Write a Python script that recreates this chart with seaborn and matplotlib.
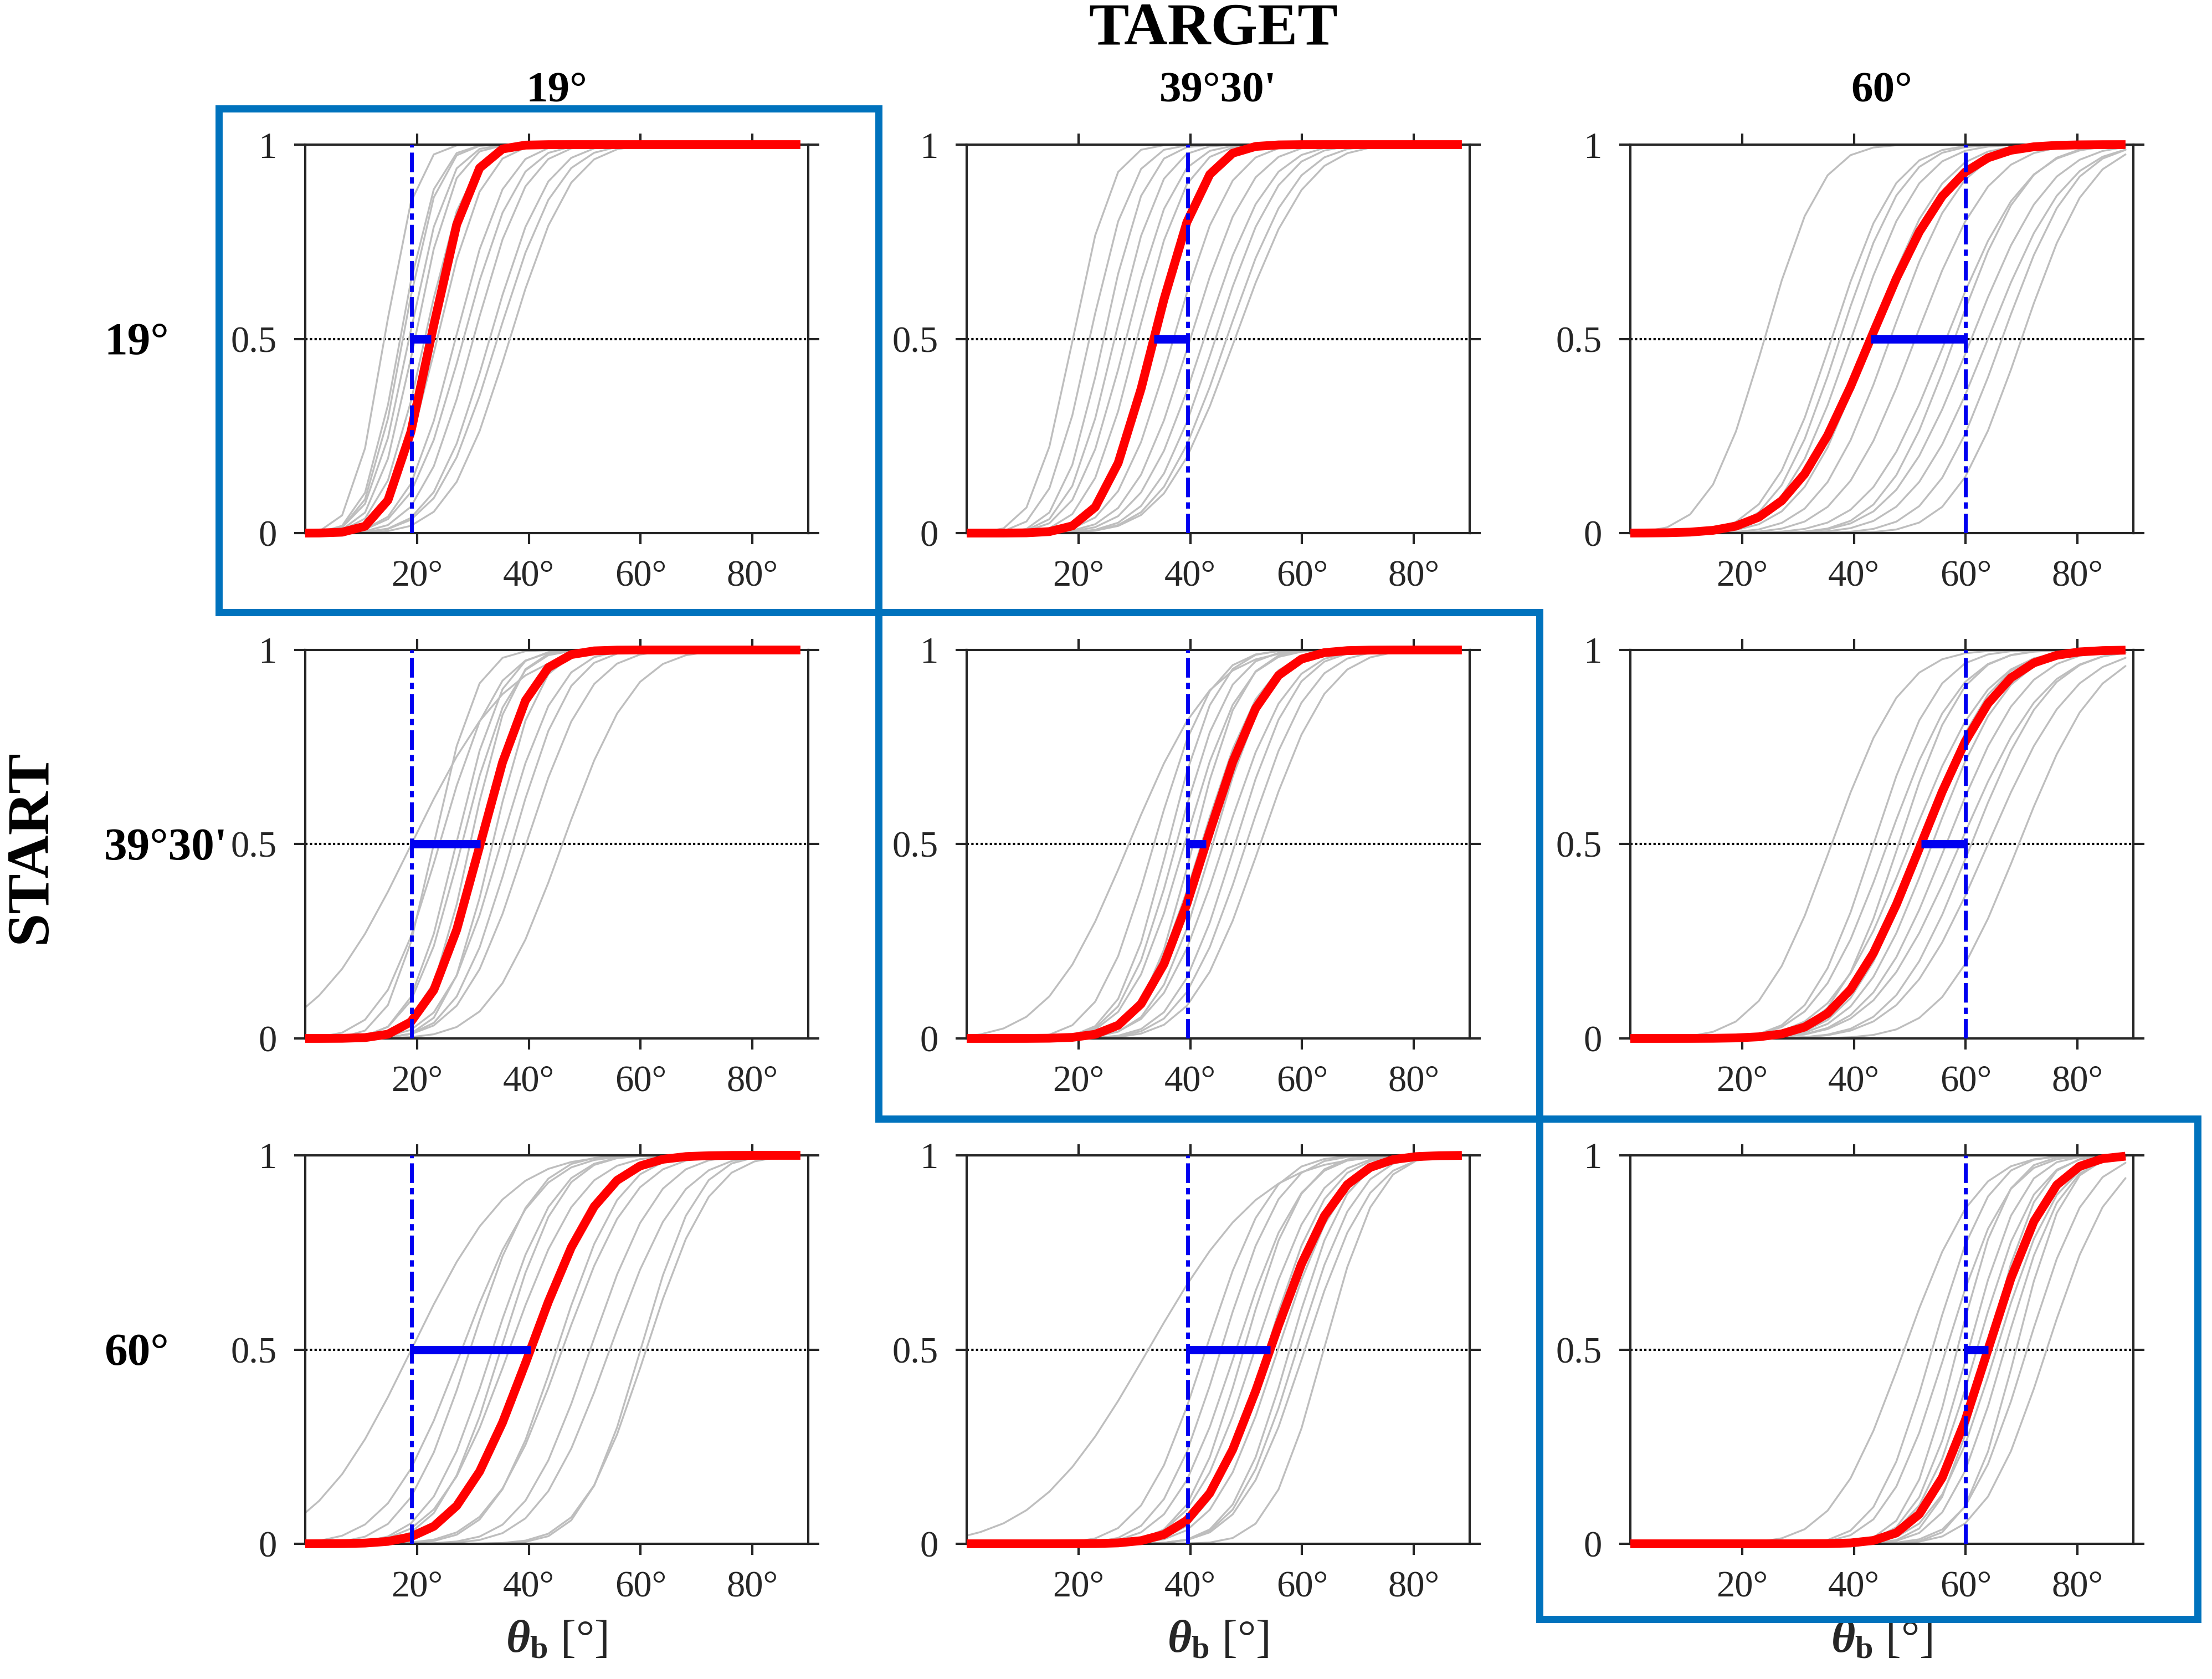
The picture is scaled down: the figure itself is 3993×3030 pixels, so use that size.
import math
import numpy as np
import pandas as pd
import matplotlib
matplotlib.use("Agg")
import matplotlib.pyplot as plt
from matplotlib.patches import Rectangle
import seaborn as sns

# ---------------- data ----------------
theta_grid = np.concatenate(([0.0], np.arange(2.5, 89.0, 4.1)))   # stimulus angles
targets = [19.0, 39.5, 60.0]                                       # target angles (columns)
col_titles = ["19°", "39°30'", "60°"]
row_titles = ["19°", "39°30'", "60°"]
xtick_vals = [20, 40, 60, 80]
xtick_labels = ["20°", "40°", "60°", "80°"]
ytick_vals = [0, 0.5, 1]
ytick_labels = ["0", "0.5", "1"]

# group (red) psychometric curves: PSE and spread per panel, rows = start
red_pse_start19 = [22.5, 33.5, 43.0]
red_sd_start19 = [5.6, 7.0, 11.5]
red_pse_start39 = [31.3, 42.8, 52.0]
red_sd_start39 = [7.2, 8.6, 11.0]
red_pse_start60 = [40.3, 54.3, 64.0]
red_sd_start60 = [10.2, 9.6, 8.6]

# individual (grey) curves per panel: PSE and spread
gray_pse_r1c1 = [14.2, 17.0, 17.5, 18.6, 19.6, 21.4, 23.6, 26.9, 28.3, 30.1, 33.0, 34.4, 36.6]
gray_sd_r1c1 = [4.5, 5.0, 5.0, 5.5, 5.5, 6.0, 6.5, 7.0, 7.5, 7.5, 8.0, 8.5, 8.5]
gray_pse_r1c2 = [19.0, 22.0, 24.5, 26.5, 28.5, 30.5, 37.0, 40.0, 42.5, 44.5, 46.5, 48.0]
gray_sd_r1c2 = [5.5, 6.0, 6.0, 6.5, 7.0, 7.0, 8.0, 8.5, 9.0, 9.0, 9.5, 10.0]
gray_pse_r1c3 = [24.0, 36.0, 37.5, 39.5, 43.0, 46.5, 51.0, 56.5, 58.0, 61.0, 64.0, 66.5, 70.0]
gray_sd_r1c3 = [8.0, 9.0, 9.0, 9.5, 10.0, 10.0, 10.5, 11.0, 10.0, 11.0, 11.0, 10.0, 9.5]
gray_pse_r2c1 = [19.0, 23.0, 24.0, 27.0, 28.0, 29.5, 31.0, 33.5, 35.0, 37.0, 39.5, 46.0]
gray_sd_r2c1 = [13.5, 6.0, 8.0, 6.5, 7.0, 6.0, 7.5, 6.5, 8.0, 8.0, 9.0, 10.0]
gray_pse_r2c2 = [29.0, 33.5, 36.0, 37.5, 39.0, 40.5, 42.0, 44.0, 46.0, 48.0, 50.0, 52.5]
gray_sd_r2c2 = [11.5, 8.0, 7.0, 7.5, 8.0, 7.0, 8.5, 8.0, 9.0, 8.5, 9.0, 9.5]
gray_pse_r2c3 = [36.0, 43.5, 46.0, 48.0, 50.0, 52.0, 54.0, 56.5, 59.0, 61.0, 64.0, 69.5]
gray_sd_r2c3 = [10.0, 9.0, 10.0, 9.0, 11.0, 10.0, 10.5, 11.0, 12.0, 11.0, 12.0, 11.0]
gray_pse_r3c1 = [19.0, 28.0, 29.5, 33.5, 35.0, 36.5, 45.0, 46.0, 51.0, 54.5, 60.0, 61.0]
gray_sd_r3c1 = [13.5, 10.5, 9.0, 9.0, 8.5, 10.0, 9.0, 10.0, 9.5, 10.0, 8.0, 9.0]
gray_pse_r3c2 = [32.5, 42.8, 45.5, 48.2, 49.6, 51.6, 53.7, 55.7, 57.8, 59.1, 60.5, 63.9]
gray_sd_r3c2 = [16.0, 9.0, 8.5, 9.0, 8.0, 9.0, 8.5, 9.0, 8.0, 8.5, 9.0, 7.5]
gray_pse_r3c3 = [49.0, 54.0, 56.5, 58.5, 60.5, 62.0, 64.0, 65.5, 67.0, 69.0, 71.0, 74.5]
gray_sd_r3c3 = [10.0, 8.0, 8.5, 7.0, 7.5, 8.0, 7.0, 8.5, 8.0, 7.0, 8.5, 9.0]

red_pse = [red_pse_start19, red_pse_start39, red_pse_start60]
red_sd = [red_sd_start19, red_sd_start39, red_sd_start60]
gray_pse = [[gray_pse_r1c1, gray_pse_r1c2, gray_pse_r1c3],
            [gray_pse_r2c1, gray_pse_r2c2, gray_pse_r2c3],
            [gray_pse_r3c1, gray_pse_r3c2, gray_pse_r3c3]]
gray_sd = [[gray_sd_r1c1, gray_sd_r1c2, gray_sd_r1c3],
           [gray_sd_r2c1, gray_sd_r2c2, gray_sd_r2c3],
           [gray_sd_r3c1, gray_sd_r3c2, gray_sd_r3c3]]


def psychometric(x, mu, sd):
    return np.array([0.5 * (1.0 + math.erf((xi - mu) / (sd * math.sqrt(2.0)))) for xi in x])


# ---------------- style ----------------
sns.set_theme(style="ticks")
plt.rcParams["font.family"] = ["Liberation Serif", "DejaVu Serif"]
plt.rcParams["mathtext.fontset"] = "custom"
plt.rcParams["mathtext.rm"] = "Liberation Serif"
plt.rcParams["mathtext.it"] = "Liberation Serif:italic:bold"
plt.rcParams["mathtext.bf"] = "Liberation Serif:bold"

W, H = 3993, 3030
DPI = 300
fig = plt.figure(figsize=(W / DPI, H / DPI), dpi=DPI)
fig.patch.set_facecolor("white")

AX_COLOR = "#262626"
col_left_px = [551, 1745, 2943]
ax_w_px = 908
row_bottom_px = [962, 1874, 2786]
ax_h_px = 701

GRAY = "#BEBEBE"
RED = "#FF0000"
BLUE = "#0000F0"
FRAME = "#0072BD"

axes = []
for r in range(3):
    for c in range(3):
        left = col_left_px[c] / W
        bottom = 1 - row_bottom_px[r] / H
        ax = fig.add_axes([left, bottom, ax_w_px / W, ax_h_px / H])
        axes.append(ax)

        # grey individual curves
        rows = []
        for k, (mu, sd) in enumerate(zip(gray_pse[r][c], gray_sd[r][c])):
            p = psychometric(theta_grid, mu, sd)
            for t, v in zip(theta_grid, p):
                rows.append({"theta": t, "p": v, "curve": k})
        gdf = pd.DataFrame(rows)
        sns.lineplot(data=gdf, x="theta", y="p", units="curve", estimator=None,
                     color=GRAY, linewidth=0.8, ax=ax, legend=False, zorder=2)

        ax.axhline(0.5, color="black", lw=1.0, ls=(0, (1, 1)), zorder=1)

        # red group curve
        rdf = pd.DataFrame({"theta": theta_grid,
                            "p": psychometric(theta_grid, red_pse[r][c], red_sd[r][c])})
        sns.lineplot(data=rdf, x="theta", y="p", color=RED, linewidth=3.8, ax=ax,
                     legend=False, zorder=4, clip_on=False, solid_capstyle="butt",
                     solid_joinstyle="round")

        # target line and bias segment
        ax.axvline(targets[c], color=BLUE, lw=1.7, ls=(0, (5, 1.3, 1.6, 1.3)), zorder=5)
        ax.plot([targets[c], red_pse[r][c]], [0.5, 0.5], color=BLUE, lw=3.6,
                solid_capstyle="butt", zorder=6)

        ax.set_xlim(0, 90)
        ax.set_ylim(0, 1)
        ax.set_xticks(xtick_vals)
        ax.set_xticklabels(xtick_labels)
        ax.set_yticks(ytick_vals)
        ax.set_yticklabels(ytick_labels)
        ax.set_ylabel("")
        ax.set_xlabel("")
        for s in ax.spines.values():
            s.set_visible(True)
            s.set_color(AX_COLOR)
            s.set_linewidth(1.0)
        ax.tick_params(axis="both", direction="out", length=4.8, width=1.0,
                       colors=AX_COLOR, labelsize=16, top=True, right=True,
                       labeltop=False, labelright=False)
        ax.tick_params(axis="x", pad=6.5)
        ax.tick_params(axis="y", pad=7.5)
        ax.set_facecolor("white")
        if r == 2:
            ax.set_xlabel(r"$\theta_{\mathbf{b}}$ [°]", fontsize=20, color=AX_COLOR, labelpad=7)

# ---------------- titles and labels ----------------
fig.text(2190 / W, 1 - 80 / H, "TARGET", ha="center", va="baseline",
         fontsize=26, fontweight="bold", color="black")
for c in range(3):
    cx = (col_left_px[c] + ax_w_px / 2) / W
    fig.text(cx, 1 - 183 / H, col_titles[c], ha="center", va="baseline",
             fontsize=19, fontweight="bold", color="black")
for r in range(3):
    mid_px = row_bottom_px[r] - ax_h_px / 2
    fig.text(188 / W, 1 - (mid_px + 27) / H, row_titles[r], ha="left", va="baseline",
             fontsize=20, fontweight="bold", color="black")
fig.text(82 / W, 1 - 1528 / H, "START", rotation=90, rotation_mode="anchor",
         ha="center", va="baseline", fontsize=26, fontweight="bold", color="black")

# ---------------- highlight frames on diagonal ----------------
frames_px = [(395, 196, 1586, 1105), (1586, 1105, 2779, 2019), (2779, 2019, 3967, 2922)]
for (x0, y0, x1, y1) in frames_px:
    rect = Rectangle((x0 / W, 1 - y1 / H), (x1 - x0) / W, (y1 - y0) / H,
                     transform=fig.transFigure, fill=False, edgecolor=FRAME,
                     linewidth=3.1, joinstyle="miter", clip_on=False, zorder=10)
    fig.patches.append(rect)

fig.savefig("out.png", dpi=DPI, facecolor="white")
